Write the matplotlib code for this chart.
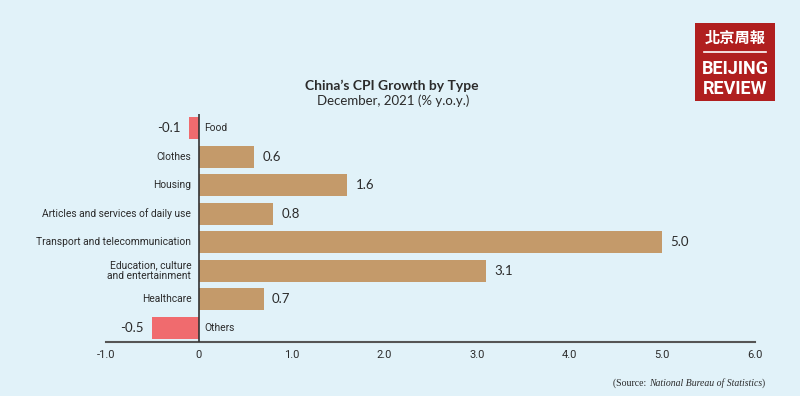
import matplotlib.pyplot as plt
from matplotlib.patches import Rectangle
from matplotlib.lines import Line2D

categories = ["Food", "Clothes", "Housing", "Articles and services of daily use",
              "Transport and telecommunication", "Education, culture\nand entertainment",
              "Healthcare", "Others"]
values = [-0.1, 0.6, 1.6, 0.8, 5.0, 3.1, 0.7, -0.5]
xticks = [-1, 0, 1, 2, 3, 4, 5, 6]
xtick_labels = ["-1.0", "0", "1.0", "2.0", "3.0", "4.0", "5.0", "6.0"]

bg = "#e1f2f9"
pos_color = "#c49a6a"
neg_color = "#f06b6e"
txt = "#2b2b2b"
narrow = ["Roboto", "DejaVu Sans"]

fig = plt.figure(figsize=(8, 3.96), dpi=100, facecolor=bg)
ax = fig.add_axes([106/800, 1-342/396, (755-106)/800, (342-114)/396])
ax.set_facecolor(bg)

ypos = list(range(len(categories)))
colors = [pos_color if v >= 0 else neg_color for v in values]
ax.barh(ypos, values, height=0.77, color=colors, zorder=2)
ax.set_xlim(-1, 6)
ax.set_ylim(7.49, -0.49)
ax.axvline(0, color="#333333", lw=1.2, zorder=3)

for s in ["top", "right", "left"]:
    ax.spines[s].set_visible(False)
ax.spines["bottom"].set_color("#555555")
ax.spines["bottom"].set_linewidth(1.5)
ax.set_yticks([])
ax.set_xticks(xticks)
ax.set_xticklabels(xtick_labels, family=narrow, fontsize=8, color=txt)
ax.tick_params(axis="x", length=0, pad=6)

for y, v, c in zip(ypos, values, categories):
    if v >= 0:
        ax.text(-0.08, y, c, ha="right", va="center", fontsize=7.4, family=narrow,
                color=txt, linespacing=1.15)
        ax.text(v + 0.09, y, f"{v:.1f}", ha="left", va="center", fontsize=9.5,
                family="Lato", color=txt)
    else:
        ax.text(0.06, y, c, ha="left", va="center", fontsize=7.4, family=narrow, color=txt)
        ax.text(v - 0.09, y, f"{v:.1f}", ha="right", va="center", fontsize=9.5,
                family="Lato", color=txt)

fig.text(392/800, 1-86/396, "China’s CPI Growth by Type", ha="center", va="center",
         fontsize=10, fontweight="bold", family="Lato", color=txt)
fig.text(393/800, 1-101/396, "December, 2021 (% y.o.y.)", ha="center", va="center",
         fontsize=9.5, family="Lato", color=txt)

# source line, pieces placed one after another on a common baseline
src_y = 1 - 386/396
src_x = 613
pieces = [("(Source: ", "normal"), ("National Bureau of Statistics", "italic"), (")", "normal")]
for s, st in pieces:
    t = fig.text(src_x/800, src_y, s, ha="left", va="baseline", fontsize=7,
                 family="Liberation Serif", style=st, color=txt)
    fig.canvas.draw()
    src_x = t.get_window_extent().x1

# logo
logo_red = "#b01f1f"
fig.patches.append(Rectangle((695/800, 1-101/396), 80/800, 78/396, transform=fig.transFigure,
                             facecolor=logo_red, edgecolor="none"))
fig.text(735/800, 1-38/396, "北京周報", ha="center", va="center", color="white", fontsize=11,
         family=["Noto Sans CJK TC", "DejaVu Sans"], fontweight="bold")
fig.lines.append(Line2D([704/800, 766/800], [1-52/396, 1-52/396], transform=fig.transFigure,
                        color="white", lw=1.2))
fig.text(735/800, 1-69/396, "BEIJING", ha="center", va="center", color="white", fontsize=13,
         family=narrow, fontweight="bold")
fig.text(735/800, 1-89/396, "REVIEW", ha="center", va="center", color="white", fontsize=13,
         family=narrow, fontweight="bold")

fig.savefig("out.png", dpi=100, facecolor=bg)
